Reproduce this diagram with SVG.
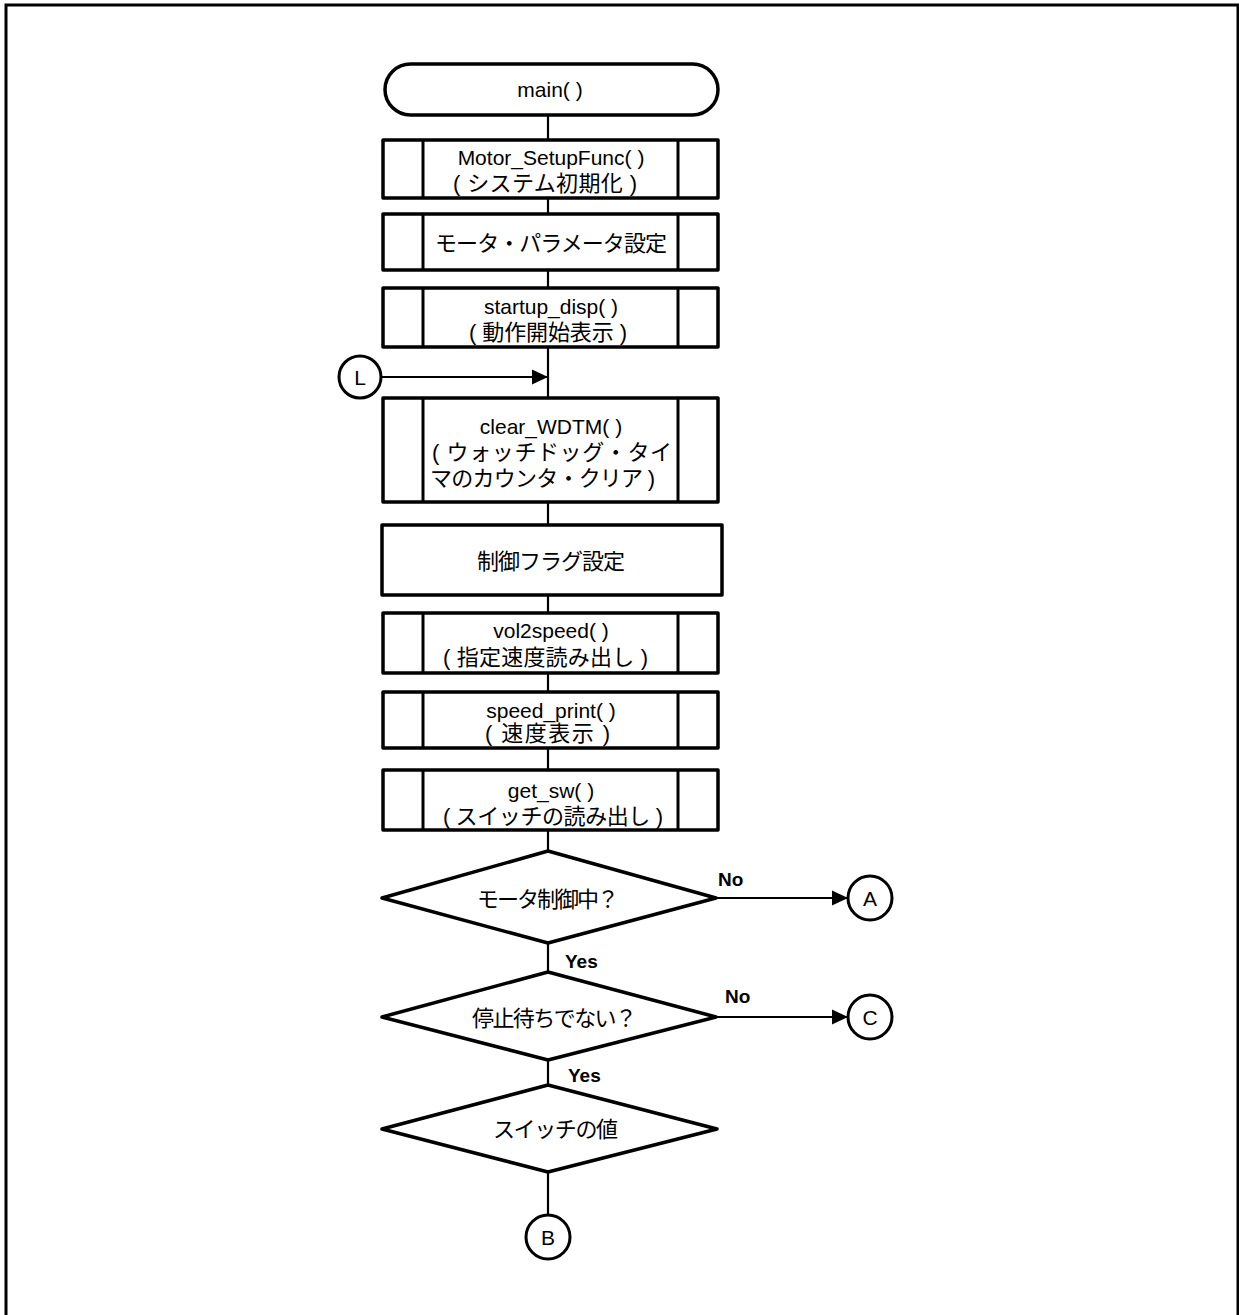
<svg xmlns="http://www.w3.org/2000/svg" width="1239" height="1315" viewBox="0 0 1239 1315">
<defs>
<style>
.sh{fill:#fff;stroke:#000;stroke-width:3.5;stroke-linejoin:round}
.in{stroke:#000;stroke-width:3}
.cn{fill:none;stroke:#000;stroke-width:2.2}
.t{font-family:"Liberation Sans","Noto Sans CJK JP",sans-serif;font-size:21px;fill:#000;text-anchor:middle;dominant-baseline:central}
.j{font-family:"Liberation Sans","Noto Sans CJK JP",sans-serif;font-size:22px;fill:#000;text-anchor:start;dominant-baseline:central}
.lb{font-family:"Liberation Sans",sans-serif;font-size:19px;font-weight:bold;fill:#000}
.ci{fill:#fff;stroke:#000;stroke-width:3}
</style>
<marker id="ah" viewBox="0 0 16 16" refX="16" refY="8" markerWidth="16" markerHeight="16" markerUnits="userSpaceOnUse" orient="auto">
<path d="M0,0.5 L16,8 L0,15.5 Z" fill="#000"/>
</marker>
</defs>
<rect width="1239" height="1315" fill="#fff"/>
<path d="M6,1315 V5 H1238 V1315" fill="none" stroke="#000" stroke-width="3"/>

<g id="connectors">
<line class="cn" x1="548" y1="115" x2="548" y2="140"/>
<line class="cn" x1="548" y1="198" x2="548" y2="214"/>
<line class="cn" x1="548" y1="270" x2="548" y2="288"/>
<line class="cn" x1="548" y1="347" x2="548" y2="398"/>
<line class="cn" x1="381" y1="377" x2="548" y2="377" marker-end="url(#ah)"/>
<line class="cn" x1="548" y1="502" x2="548" y2="525"/>
<line class="cn" x1="548" y1="595" x2="548" y2="613"/>
<line class="cn" x1="548" y1="673" x2="548" y2="692"/>
<line class="cn" x1="548" y1="748" x2="548" y2="770"/>
<line class="cn" x1="548" y1="830" x2="548" y2="851"/>
<line class="cn" x1="716" y1="898" x2="848" y2="898" marker-end="url(#ah)"/>
<line class="cn" x1="548" y1="943" x2="548" y2="972"/>
<line class="cn" x1="716" y1="1017" x2="848" y2="1017" marker-end="url(#ah)"/>
<line class="cn" x1="548" y1="1060" x2="548" y2="1085"/>
<line class="cn" x1="548" y1="1172" x2="548" y2="1215"/>
<text class="lb" x="718" y="886">No</text>
<text class="lb" x="565" y="968">Yes</text>
<text class="lb" x="725" y="1003">No</text>
<text class="lb" x="568" y="1082">Yes</text>
</g>

<g id="start">
<rect class="sh" x="385" y="64" width="333" height="51" rx="25.5"/>
<text class="t" x="550" y="89">main( )</text>
</g>

<g id="setup">
<rect class="sh" x="383" y="140" width="335" height="58"/>
<line class="in" x1="423" y1="140" x2="423" y2="198"/>
<line class="in" x1="678" y1="140" x2="678" y2="198"/>
<text class="t" x="551" y="157">Motor_SetupFunc( )</text>
<text class="j" x="453" y="183" textLength="184" lengthAdjust="spacing">( システム初期化 )</text>
</g>

<g id="param">
<rect class="sh" x="383" y="214" width="335" height="56"/>
<line class="in" x1="423" y1="214" x2="423" y2="270"/>
<line class="in" x1="678" y1="214" x2="678" y2="270"/>
<text class="j" x="435" y="243" textLength="232" lengthAdjust="spacing">モータ・パラメータ設定</text>
</g>

<g id="startup">
<rect class="sh" x="383" y="288" width="335" height="59"/>
<line class="in" x1="423" y1="288" x2="423" y2="347"/>
<line class="in" x1="678" y1="288" x2="678" y2="347"/>
<text class="t" x="551" y="306">startup_disp( )</text>
<text class="j" x="469" y="332" textLength="158" lengthAdjust="spacing">( 動作開始表示 )</text>
</g>

<g id="L">
<circle class="ci" cx="360" cy="377" r="21"/>
<text class="t" x="360" y="377">L</text>
</g>

<g id="wdtm">
<rect class="sh" x="383" y="398" width="335" height="104"/>
<line class="in" x1="423" y1="398" x2="423" y2="502"/>
<line class="in" x1="678" y1="398" x2="678" y2="502"/>
<text class="t" x="551" y="426">clear_WDTM( )</text>
<text class="j" x="432" y="452" textLength="240" lengthAdjust="spacing">( ウォッチドッグ・タイ</text>
<text class="j" x="430" y="478" textLength="225" lengthAdjust="spacing">マのカウンタ・クリア )</text>
</g>

<g id="flag">
<rect class="sh" x="382" y="525" width="340" height="70"/>
<text class="j" x="477" y="561" textLength="148" lengthAdjust="spacing">制御フラグ設定</text>
</g>

<g id="vol2speed">
<rect class="sh" x="383" y="613" width="335" height="60"/>
<line class="in" x1="423" y1="613" x2="423" y2="673"/>
<line class="in" x1="678" y1="613" x2="678" y2="673"/>
<text class="t" x="551" y="630">vol2speed( )</text>
<text class="j" x="443" y="657" textLength="205" lengthAdjust="spacing">( 指定速度読み出し )</text>
</g>

<g id="speedprint">
<rect class="sh" x="383" y="692" width="335" height="56"/>
<line class="in" x1="423" y1="692" x2="423" y2="748"/>
<line class="in" x1="678" y1="692" x2="678" y2="748"/>
<text class="t" x="551" y="710">speed_print( )</text>
<text class="j" x="485" y="733" textLength="125" lengthAdjust="spacing">( 速度表示 )</text>
</g>

<g id="getsw">
<rect class="sh" x="383" y="770" width="335" height="60"/>
<line class="in" x1="423" y1="770" x2="423" y2="830"/>
<line class="in" x1="678" y1="770" x2="678" y2="830"/>
<text class="t" x="551" y="790">get_sw( )</text>
<text class="j" x="443" y="816" textLength="220" lengthAdjust="spacing">( スイッチの読み出し )</text>
</g>

<g id="d1">
<polygon class="sh" points="548,851 716,898 548,943 382,898"/>
<text class="j" x="477" y="899" textLength="142" lengthAdjust="spacing">モータ制御中？</text>
</g>

<g id="A">
<circle class="ci" cx="870" cy="898" r="22"/>
<text class="t" x="870" y="898">A</text>
</g>

<g id="d2">
<polygon class="sh" points="548,972 716,1017 548,1060 382,1017"/>
<text class="j" x="472" y="1018" textLength="165" lengthAdjust="spacing">停止待ちでない？</text>
</g>

<g id="C">
<circle class="ci" cx="870" cy="1017" r="22"/>
<text class="t" x="870" y="1017">C</text>
</g>

<g id="d3">
<polygon class="sh" points="548,1085 717,1129 548,1172 382,1129"/>
<text class="j" x="493" y="1129" textLength="125" lengthAdjust="spacing">スイッチの値</text>
</g>

<g id="B">
<circle class="ci" cx="548" cy="1237" r="22"/>
<text class="t" x="548" y="1237">B</text>
</g>
</svg>
